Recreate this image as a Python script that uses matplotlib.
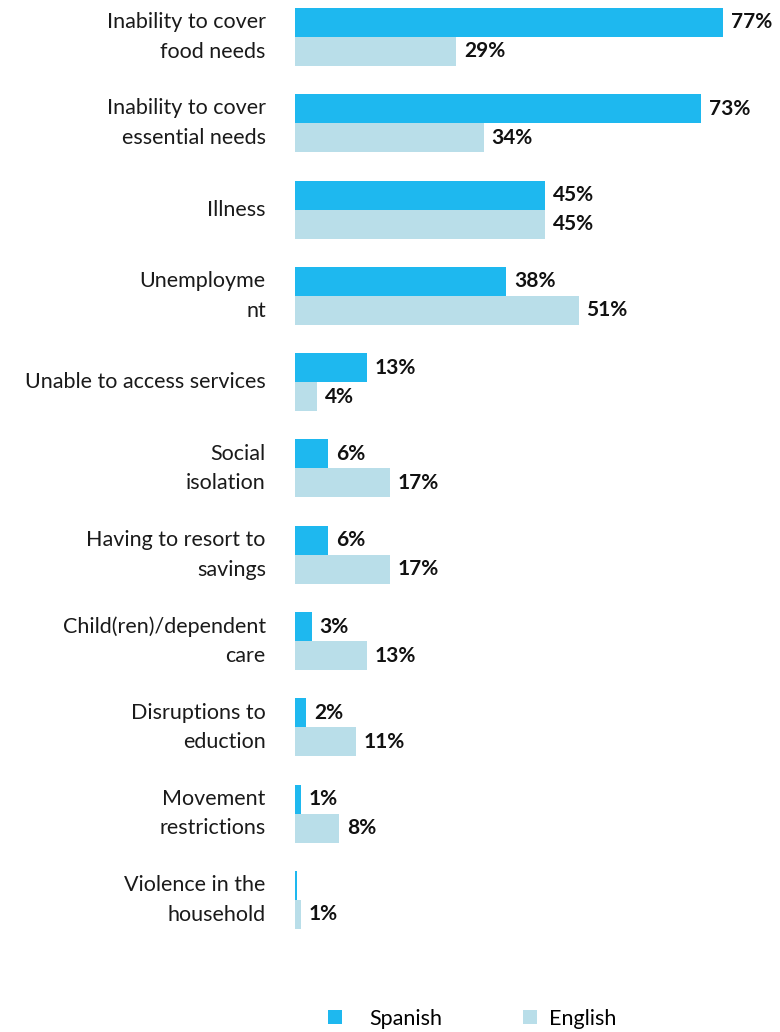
import matplotlib
matplotlib.use("Agg")
import matplotlib.pyplot as plt
from matplotlib.patches import Patch
import numpy as np

plt.rcParams['font.family'] = ['Lato', 'DejaVu Sans']

categories = [
    "Inability to cover\nfood needs",
    "Inability to cover\nessential needs",
    "Illness",
    "Unemployme\nnt",
    "Unable to access services",
    "Social\nisolation",
    "Having to resort to\nsavings",
    "Child(ren)/dependent\ncare",
    "Disruptions to\neduction",
    "Movement\nrestrictions",
    "Violence in the\nhousehold",
]
spanish = [77, 73, 45, 38, 13, 6, 6, 3, 2, 1, 0.4]
english = [29, 34, 45, 51, 4, 17, 17, 13, 11, 8, 1]
spanish_labels = ["77%", "73%", "45%", "38%", "13%", "6%", "6%", "3%", "2%", "1%", ""]
english_labels = ["29%", "34%", "45%", "51%", "4%", "17%", "17%", "13%", "11%", "8%", "1%"]

c_sp = "#1EB8EF"
c_en = "#B9DEE9"

W, H = 780, 1032
fig = plt.figure(figsize=(W / 100, H / 100), dpi=100)
ax_left, ax_right, ax_top, ax_bot = 295, 780, 0, 968
ax = fig.add_axes([ax_left / W, 1 - ax_bot / H, (ax_right - ax_left) / W, (ax_bot - ax_top) / H])

pitch = 86.3
y = np.arange(len(categories))
h = 0.336
ax.barh(y - h / 2, spanish, height=h, color=c_sp)
ax.barh(y + h / 2, english, height=h, color=c_en)

ax.set_xlim(0, (ax_right - ax_left) / 5.56)
top = -h - 8 / pitch
ax.set_ylim(top + (ax_bot - ax_top) / pitch, top)

vfont = dict(fontsize=15, fontweight="bold", color="#111111")
for yi, v, lab in zip(y, spanish, spanish_labels):
    if lab:
        ax.annotate(lab, (v, yi - h / 2), xytext=(5.5, 0), textcoords="offset points",
                    va="center", ha="left", **vfont)
for yi, v, lab in zip(y, english, english_labels):
    ax.annotate(lab, (v, yi + h / 2), xytext=(5.5, 0), textcoords="offset points",
                va="center", ha="left", **vfont)

for yi, cat in zip(y, categories):
    ax.annotate(cat, (0, yi), xytext=(-21, 0), textcoords="offset points",
                va="center", ha="right", fontsize=15.5, color="#1a1a1a",
                linespacing=1.6, annotation_clip=False)

ax.set_xticks([])
ax.set_yticks([])
for s in ax.spines.values():
    s.set_visible(False)

fig.legend([Patch(facecolor=c_sp, edgecolor="none")], ["Spanish"], loc="center left",
           bbox_to_anchor=(309 / W, 1 - 1019 / H), frameon=False, fontsize=15.5,
           handlelength=0.62, handleheight=0.62, handletextpad=1.3)
fig.legend([Patch(facecolor=c_en, edgecolor="none")], ["English"], loc="center left",
           bbox_to_anchor=(504 / W, 1 - 1019 / H), frameon=False, fontsize=15.5,
           handlelength=0.62, handleheight=0.62, handletextpad=0.55)

fig.savefig("out.png", dpi=100)
